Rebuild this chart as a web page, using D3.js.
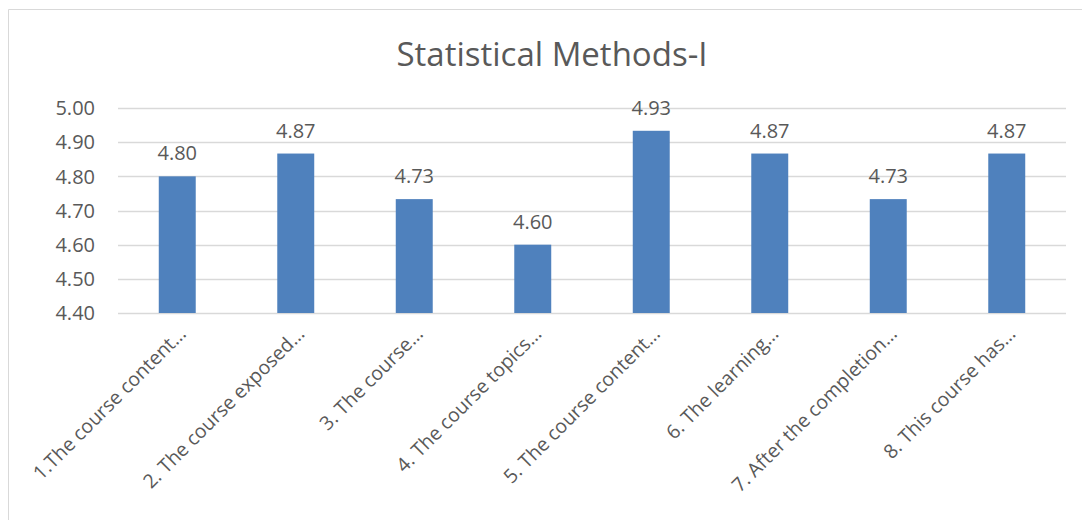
<!DOCTYPE html>
<html>
<head>
<meta charset="utf-8">
<script src="https://cdn.jsdelivr.net/npm/d3@7"></script>
<style>
  html, body { margin: 0; padding: 0; background: #fff; }
  svg { display: block; }
  text { font-family: "Open Sans", "Noto Sans", sans-serif; fill: #595959; }
</style>
</head>
<body>
<svg id="chart" width="1082" height="520"></svg>
<script>
const title = "Statistical Methods-I";
const categories = [
  "1.The course content…",
  "2. The course exposed…",
  "3. The course…",
  "4. The course topics…",
  "5. The course content…",
  "6. The learning…",
  "7. After the completion…",
  "8. This course has…"
];
const values = [4.80, 4.8667, 4.7333, 4.60, 4.9333, 4.8667, 4.7333, 4.8667];
const yTicks = [4.40, 4.50, 4.60, 4.70, 4.80, 4.90, 5.00];

const svg = d3.select("#chart");
const W = 1082, H = 520;
const margin = { left: 118, right: 16, top: 108, bottom: 207 };
const plotW = W - margin.left - margin.right;
const plotH = H - margin.top - margin.bottom;

// outer chart border (top and left visible)
svg.append("path")
  .attr("d", `M8.5,${H} L8.5,9.5 L${W},9.5`)
  .attr("fill", "none").attr("stroke", "#d9d9d9").attr("stroke-width", 1);

const g = svg.append("g").attr("transform", `translate(${margin.left},${margin.top})`);

const x = d3.scaleBand().domain(categories).range([0, plotW]).paddingInner(0.688).paddingOuter(0.344);
const y = d3.scaleLinear().domain([4.40, 5.00]).range([plotH, 0]);

// gridlines
g.append("g")
  .selectAll("line").data(yTicks).join("line")
  .attr("x1", 0).attr("x2", plotW)
  .attr("y1", d => Math.round(y(d)) + 0.5).attr("y2", d => Math.round(y(d)) + 0.5)
  .attr("stroke", "#d9d9d9").attr("stroke-width", 1.3);

// y axis labels
const yAxis = d3.axisLeft(y).tickValues(yTicks).tickFormat(d3.format(".2f")).tickSize(0).tickPadding(23);
const ya = g.append("g").call(yAxis);
ya.select(".domain").remove();
ya.selectAll("text").style("font-size", "20px").attr("fill", "#595959")
  .style("font-family", '"Open Sans", sans-serif').attr("dy", "0.34em");

// bars
g.append("g").selectAll("rect").data(values).join("rect")
  .attr("x", (d, i) => x(categories[i]))
  .attr("y", d => y(d))
  .attr("width", x.bandwidth())
  .attr("height", d => plotH - y(d))
  .attr("fill", "#4f81bd");

// data labels
g.append("g").selectAll("text").data(values).join("text")
  .attr("x", (d, i) => x(categories[i]) + x.bandwidth() / 2)
  .attr("y", d => y(d) - 16)
  .attr("text-anchor", "middle")
  .style("font-size", "20px")
  .text(d => d.toFixed(2));

// x axis labels
const xa = d3.axisBottom(x).tickSize(0).tickPadding(0);
const xg = g.append("g").attr("transform", `translate(0,${plotH})`).call(xa);
xg.select(".domain").remove();
xg.selectAll(".tick text")
  .attr("text-anchor", "end")
  .attr("transform", "translate(10,22) rotate(-45)")
  .attr("x", 0).attr("y", 0).attr("dy", 0)
  .attr("fill", "#595959")
  .style("font-size", "19.5px")
  .style("font-family", '"Open Sans", sans-serif');

// title
svg.append("text")
  .attr("x", 552).attr("y", 66)
  .attr("text-anchor", "middle")
  .style("font-size", "33px")
  .text(title);
</script>
</body>
</html>
